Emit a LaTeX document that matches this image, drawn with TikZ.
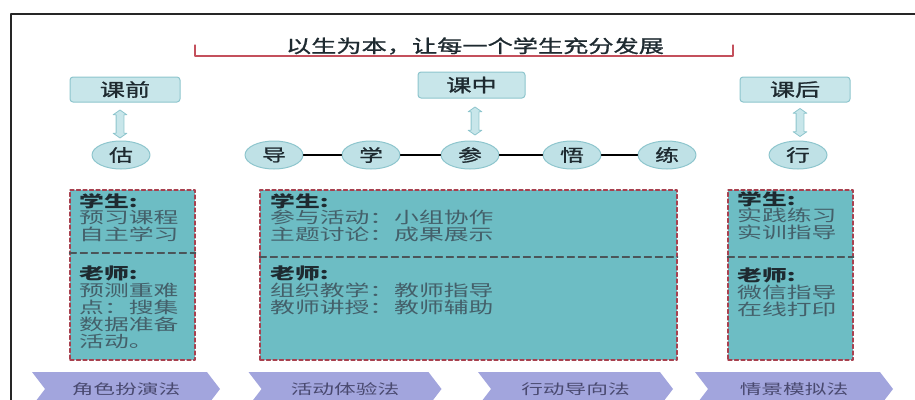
\documentclass[tikz,border=0pt]{standalone}
\usepackage{fontspec}
\usetikzlibrary{shapes.geometric,shapes.arrows,shapes.symbols}
\newfontfamily\cjkhead[FakeStretch=1.4,FakeBold=1.2]{Noto Sans CJK SC}
\newfontfamily\cjkbody[FakeStretch=1.55]{Noto Sans CJK SC}
\definecolor{labelfill}{HTML}{C8E6EA}
\definecolor{labeldraw}{HTML}{8DC5CD}
\definecolor{boxfill}{HTML}{6DBDC4}
\definecolor{boxdraw}{HTML}{A8414F}
\definecolor{chevfill}{HTML}{A2A5DD}
\definecolor{chevtext}{HTML}{4A4A70}
\definecolor{headtext}{HTML}{1E2A30}
\definecolor{bodytext}{HTML}{44606A}
\definecolor{bracket}{HTML}{C4505C}
\tikzset{
  stage/.style={draw=labeldraw, fill=labelfill, rounded corners=3pt, line width=1pt,
    minimum width=110pt, minimum height=25pt, inner sep=0pt,
    font=\cjkhead\fontsize{18}{20}\selectfont, text=headtext},
  updown/.style={draw=labeldraw, fill=labelfill, double arrow, rotate=90, line width=0.8pt,
    minimum height=28pt, minimum width=13pt, double arrow head extend=3pt,
    double arrow tip angle=110, inner sep=3.5pt},
  phase/.style={ellipse, draw=labeldraw, fill=labelfill!85!labeldraw, line width=1pt,
    minimum width=58pt, minimum height=28pt, inner sep=0pt,
    font=\cjkhead\fontsize{17}{19}\selectfont, text=headtext},
  plan/.style={draw=boxdraw, fill=boxfill, line width=1.3pt, dash pattern=on 4pt off 2.5pt,
    inner sep=0pt},
  divider/.style={draw=headtext!80, line width=1.2pt, dash pattern=on 7pt off 4pt},
  notes/.style={anchor=north west, align=left, inner sep=0pt, text=bodytext,
    font=\cjkbody\fontsize{16}{16.8}\selectfont},
  method/.style={signal, signal from=west, signal to=east, signal pointer angle=105,
    fill=chevfill, minimum width=193pt, minimum height=34pt, inner sep=0pt,
    font=\cjkbody\fontsize{14}{16}\selectfont, text=chevtext}
}
\newcommand{\head}[1]{{\color{headtext}\bfseries #1}}
\begin{document}
\begin{tikzpicture}[x=1pt, y=-1pt, line join=round, line cap=round]
\useasboundingbox (0,0) rectangle (915,399);
\clip (0,0) rectangle (915,399);
\draw[line width=1.2pt, black!85] (11,410) -- (11,14) -- (915,14);
% motto
\draw[bracket, line width=1.3pt] (195,45) -- (195,56) -- (733,56) -- (733,45);
\node[font=\cjkhead\fontsize{18}{20}\selectfont, text=headtext] (motto) at (475,46) {以生为本，让每一个学生充分发展};
% stages
\node[stage] (before) at (125,89.5) {课前};
\node[stage, minimum width=107pt, minimum height=26pt] (during) at (471.5,85) {课中};
\node[stage] (after) at (795,89.5) {课后};
\node[updown] (arrb) at (120,124) {};
\node[updown] (arrd) at (475,121) {};
\node[updown] (arra) at (800,122.5) {};
% steps
\node[phase] (gu) at (121,155) {估};
\node[phase] (dao) at (274,155) {导};
\node[phase] (xue) at (371,155) {学};
\node[phase] (can) at (470,155) {参};
\node[phase] (wu) at (572,155) {悟};
\node[phase] (lian) at (667,155) {练};
\node[phase] (xing) at (798,155) {行};
\draw[line width=1.3pt] (dao) -- (xue) (xue) -- (can) (can) -- (wu) (wu) -- (lian);
% plans
\node[plan, minimum width=125pt, minimum height=170pt] (planb) at (132.5,275) {};
\node[plan, minimum width=417pt, minimum height=170pt] (pland) at (468.5,275) {};
\node[plan, minimum width=125pt, minimum height=170pt] (plana) at (790.5,275) {};
\draw[divider] (planb.west |- 0,253) -- (planb.east |- 0,253);
\draw[divider] (pland.west |- 0,257) -- (pland.east |- 0,257);
\draw[divider] (plana.west |- 0,257) -- (plana.east |- 0,257);
\node[notes] (sb) at (79,193) {\head{学生:}\\预习课程\\自主学习};
\node[notes] (tb) at (79,266) {\head{老师:}\\预测重难\\点：搜集\\数据准备\\活动。};
\node[notes] (sd) at (270,193) {\head{学生:}\\参与活动：小组协作\\主题讨论：成果展示};
\node[notes] (td) at (270,266) {\head{老师:}\\组织教学：教师指导\\教师讲授：教师辅助};
\node[notes] (sa) at (737,191) {\head{学生:}\\实践练习\\实训指导};
\node[notes] (ta) at (737,268) {\head{老师:}\\微信指导\\在线打印};
% methods
\node[method, minimum width=188pt] (m1) at (126,389) {角色扮演法};
\node[method] (m2) at (345,389) {活动体验法};
\node[method, minimum width=195pt] (m3) at (575.5,389) {行动导向法};
\node[method, minimum width=198pt] (m4) at (794,389) {情景模拟法};
\end{tikzpicture}
\end{document}
